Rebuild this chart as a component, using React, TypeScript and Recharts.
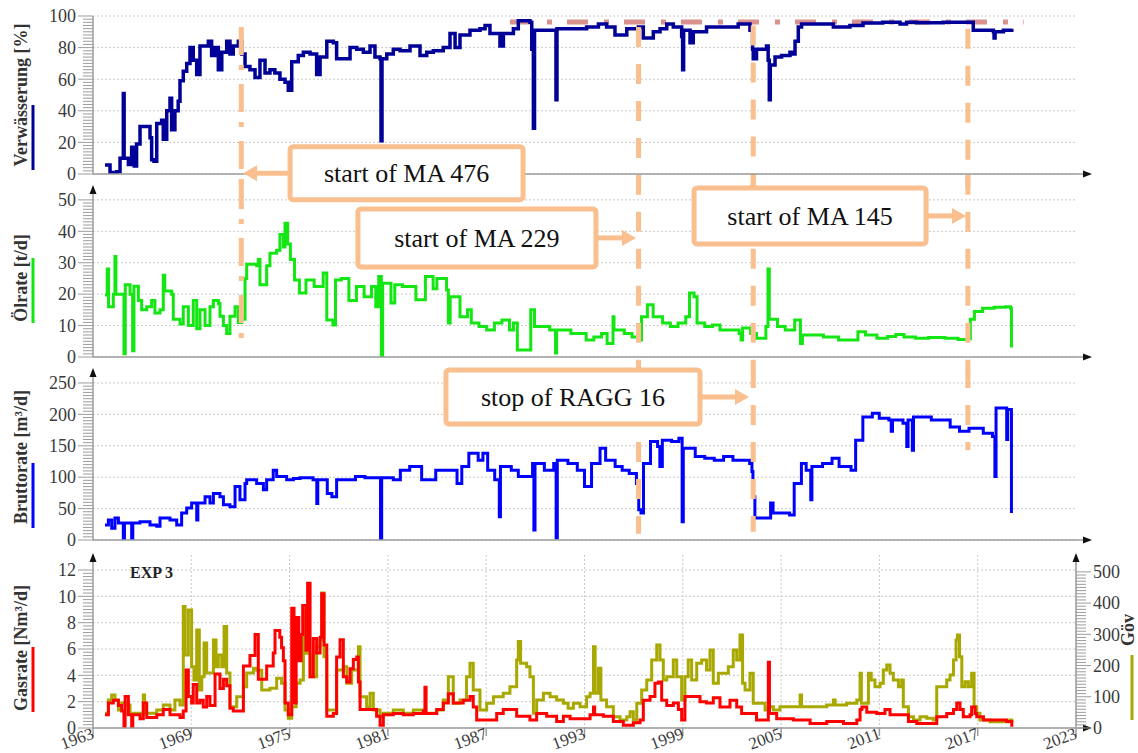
import {
  LineChart,
  Line,
  XAxis,
  YAxis,
  CartesianGrid,
  ReferenceLine,
  ReferenceDot,
} from "recharts";

type Pair = [number, number];

const SERIF = '"Liberation Serif", "Times New Roman", serif';
const ORANGE = "#f9bf8e";
const PINK = "#d8918c";
const AXIS = "#9c9c9c";
const GRID = "#c9c9c9";
const NAVY = "#000099";
const GREEN = "#14e614";
const BLUE = "#0000ff";
const RED = "#ff0000";
const OLIVE = "#a8a800";
const W = 1138;

const YEAR_TICKS = [1963, 1969, 1975, 1981, 1987, 1993, 1999, 2005, 2011, 2017, 2023];
const GRID_YEARS = [1969, 1975, 1981, 1987, 1993, 1999, 2005, 2011, 2017, 2023];

const WCUT_MAJOR = [0, 20, 40, 60, 80, 100];
const OIL_MAJOR = [0, 10, 20, 30, 40, 50];
const GROSS_MAJOR = [0, 50, 100, 150, 200, 250];
const GAS_MAJOR = [0, 2, 4, 6, 8, 10, 12];
const GOV_MAJOR = [0, 100, 200, 300, 400, 500];

// event years (vertical markers)
const MA476 = 1972.05;
const MA229 = 1996.3;
const RAGG16 = 2003.3;
const MA145 = 2016.4;

// Verwässerung [%]
const WCUT: Pair[] = [
  [1963.73, 5.7], [1964.04, 1], [1964.45, 1.5], [1964.65, 10], [1964.82, 10], [1964.85, 51], [1964.9, 10],
  [1965.16, 6], [1965.36, 17], [1965.52, 5], [1965.66, 19], [1965.87, 30], [1966.28, 30], [1966.48, 23],
  [1966.58, 9], [1966.72, 8], [1966.89, 32], [1967.19, 34], [1967.29, 22], [1967.5, 40], [1967.7, 48],
  [1967.8, 28], [1968.0, 40], [1968.2, 46], [1968.31, 59], [1968.51, 65], [1968.72, 70], [1968.92, 80],
  [1969.12, 72], [1969.33, 63], [1969.53, 81], [1969.84, 81], [1970.04, 84], [1970.24, 75], [1970.45, 80],
  [1970.65, 66], [1970.86, 77], [1971.16, 84], [1971.36, 76], [1971.56, 81], [1971.87, 84], [1972.08, 76],
  [1972.28, 68], [1972.58, 66], [1972.89, 61], [1973.19, 72], [1973.5, 64], [1973.8, 66], [1974.1, 64],
  [1974.41, 60], [1974.72, 58], [1974.92, 53], [1975.13, 71], [1975.53, 75], [1975.84, 77], [1976.25, 76],
  [1976.65, 63], [1976.86, 74], [1977.27, 84], [1977.67, 83], [1977.87, 73], [1978.28, 73], [1978.69, 80],
  [1979.1, 79], [1979.5, 77], [1979.91, 81], [1980.21, 74], [1980.52, 73], [1980.58, 21], [1980.64, 73],
  [1980.93, 76], [1981.33, 79], [1981.74, 78], [1982.35, 81], [1982.96, 75], [1983.37, 77], [1983.77, 78],
  [1984.38, 80], [1984.79, 89], [1985.1, 80], [1985.4, 88], [1986.01, 91], [1986.62, 92], [1986.93, 94],
  [1987.23, 89], [1987.64, 89], [1987.84, 81], [1988.05, 89], [1988.66, 92], [1988.96, 97], [1989.67, 96],
  [1989.78, 79], [1989.88, 29], [1989.95, 91], [1991.2, 91], [1991.26, 47], [1991.32, 92], [1992.73, 92],
  [1993.13, 93], [1993.85, 95], [1994.35, 93], [1994.86, 88], [1995.58, 92], [1996.29, 93], [1996.59, 86],
  [1997.2, 90], [1997.61, 92], [1998.02, 95], [1998.42, 93], [1998.93, 87], [1998.99, 66], [1999.05, 91],
  [1999.44, 83], [1999.64, 90], [2000.45, 93], [2001.67, 93], [2002.38, 95], [2003.1, 91], [2003.26, 79],
  [2003.3, 73], [2003.5, 79], [2004.11, 81], [2004.21, 72], [2004.28, 47], [2004.34, 69], [2004.63, 74],
  [2005.03, 75], [2005.54, 77], [2005.74, 76], [2005.85, 84], [2006.05, 93], [2006.25, 95], [2008.19, 93],
  [2009.2, 94], [2010.0, 95.5], [2011.2, 96], [2012.26, 95], [2012.66, 96], [2013.27, 95.7], [2014.9, 96],
  [2016.5, 96], [2016.73, 91], [2017.3, 91], [2017.96, 90], [2018.0, 86], [2018.06, 90], [2018.57, 91],
  [2019.08, 92],
];

// Ölrate [t/d]
const OIL: Pair[] = [
  [1963.73, 19.7], [1963.87, 28], [1963.95, 16], [1964.24, 20], [1964.34, 32], [1964.4, 20], [1964.75, 20],
  [1964.89, 1], [1964.97, 23], [1965.26, 20], [1965.42, 2], [1965.5, 22.5], [1965.77, 18], [1965.97, 15],
  [1966.28, 16], [1966.58, 18], [1966.78, 14], [1967.09, 15], [1967.29, 26], [1967.38, 21], [1967.8, 20],
  [1967.9, 12], [1968.31, 10.5], [1968.51, 16], [1968.82, 10], [1969.12, 18], [1969.33, 9], [1969.53, 15],
  [1969.84, 10], [1970.14, 16], [1970.35, 18], [1970.65, 17], [1970.75, 13], [1970.96, 10], [1971.16, 7.5],
  [1971.36, 13], [1971.67, 16], [1971.87, 11], [1972.08, 12], [1972.28, 25], [1972.38, 29.5], [1972.99, 29],
  [1973.09, 31], [1973.19, 23], [1973.6, 29], [1973.8, 33], [1974.21, 34], [1974.41, 39], [1974.62, 35],
  [1974.72, 42.6], [1974.88, 36], [1975.05, 31], [1975.3, 24.5], [1975.6, 20.4], [1976.0, 24.5],
  [1976.5, 22.4], [1977.05, 26.7], [1977.27, 11.8], [1977.64, 10.2], [1977.8, 24.5], [1978.15, 25],
  [1978.62, 18], [1979.08, 22.4], [1979.55, 19.2], [1980.0, 22.4], [1980.26, 16], [1980.44, 25.6],
  [1980.6, 0], [1980.68, 23.5], [1981.19, 17.2], [1981.42, 23], [1981.89, 22.4], [1982.71, 18.2],
  [1983.29, 25.6], [1983.76, 21.7], [1983.99, 25], [1984.58, 21.3], [1984.69, 10.8], [1984.8, 19.2],
  [1985.16, 19.2], [1985.4, 12.8], [1985.86, 15], [1986.09, 10.8], [1986.56, 9.7], [1987.03, 8.6],
  [1987.5, 10.8], [1987.96, 11.8], [1988.42, 8.6], [1988.66, 10.8], [1988.9, 2.2], [1989.36, 2.2],
  [1989.72, 15], [1989.95, 9.7], [1990.54, 9.7], [1990.88, 8.6], [1991.23, 1.3], [1991.3, 8.6],
  [1992.17, 7.5], [1992.87, 7.5], [1993.1, 5.4], [1993.57, 6.4], [1994.04, 7.5], [1994.38, 4.3],
  [1994.74, 12.8], [1994.8, 8.6], [1995.43, 7.5], [1995.9, 6.4], [1996.37, 5.4], [1996.48, 12.8],
  [1996.84, 16.6], [1997.19, 12.8], [1997.77, 10.8], [1998.24, 9.7], [1998.71, 10.8], [1999.18, 12.8],
  [1999.41, 20.4], [1999.69, 19.2], [1999.87, 10.8], [2000.34, 9.7], [2000.81, 10.2], [2001.27, 8.6],
  [2002.44, 7.5], [2002.56, 5.4], [2002.65, 9.2], [2003.14, 7.5], [2003.5, 6], [2004.07, 9.7], [2004.2, 28],
  [2004.28, 12], [2004.78, 9.7], [2005.25, 8.6], [2005.83, 11.8], [2006.18, 4.3], [2006.3, 7], [2007.58, 6.4],
  [2008.51, 5.4], [2009.69, 8], [2010.15, 7], [2010.85, 6], [2011.5, 6.5], [2012.0, 7.2], [2012.5, 6.4],
  [2013.2, 6.0], [2014.0, 6.2], [2015.0, 6.0], [2015.8, 5.6], [2016.45, 5.8], [2016.55, 12], [2016.8, 14.5],
  [2017.3, 15.5], [2018.0, 15.8], [2018.7, 16], [2019.0, 15.5], [2019.06, 3],
];

// Bruttorate [m³/d]
const GROSS: Pair[] = [
  [1963.73, 24], [1963.94, 32], [1964.14, 18.6], [1964.34, 35], [1964.55, 27], [1964.85, 0], [1964.92, 27],
  [1965.36, 0], [1965.43, 27], [1965.87, 29], [1966.48, 24], [1966.89, 22], [1967.09, 35], [1967.7, 32],
  [1968.11, 24], [1968.41, 43], [1968.72, 51], [1969.02, 59], [1969.33, 32], [1969.4, 59], [1969.84, 69],
  [1970.14, 59], [1970.35, 74], [1970.75, 69], [1970.96, 56], [1971.36, 53], [1971.67, 85], [1971.97, 64],
  [1972.28, 90], [1972.38, 96], [1972.99, 90], [1973.4, 80], [1973.6, 96], [1974.0, 111], [1974.21, 101],
  [1974.82, 96], [1975.23, 98], [1975.64, 99], [1976.43, 96], [1976.66, 58], [1976.72, 96], [1977.3, 74],
  [1977.58, 69], [1977.87, 96], [1979.02, 101], [1979.6, 99], [1980.55, 0], [1980.62, 99], [1981.33, 96],
  [1981.76, 111], [1982.33, 117], [1983.06, 96], [1983.92, 111], [1984.5, 111], [1985.22, 90],
  [1985.51, 117], [1985.94, 138], [1986.51, 127], [1986.8, 138], [1987.09, 111], [1987.52, 96],
  [1987.8, 37], [1987.87, 117], [1988.53, 111], [1988.96, 101], [1989.83, 122], [1989.91, 16],
  [1989.98, 122], [1990.55, 111], [1991.12, 122], [1991.27, 3], [1991.34, 127], [1991.99, 122],
  [1992.56, 111], [1993.0, 85], [1993.43, 122], [1993.95, 146], [1994.29, 127], [1994.87, 117],
  [1995.3, 111], [1995.73, 106], [1996.17, 90], [1996.31, 48], [1996.45, 43], [1996.6, 122],
  [1997.03, 157], [1997.46, 149], [1997.6, 117], [1997.75, 159], [1998.32, 157], [1998.76, 162],
  [1998.96, 29], [1999.03, 146], [1999.76, 133], [2000.34, 130], [2000.92, 127], [2001.49, 133],
  [2002.06, 127], [2003.08, 122], [2003.22, 109], [2003.28, 69], [2003.4, 35], [2004.36, 59],
  [2004.51, 43], [2005.52, 40], [2005.8, 90], [2006.24, 122], [2006.53, 111], [2006.81, 64],
  [2006.88, 117], [2007.53, 122], [2008.11, 130], [2008.54, 117], [2009.27, 111], [2009.55, 159],
  [2009.99, 196], [2010.57, 202], [2010.99, 194], [2011.58, 191], [2011.72, 173], [2011.8, 191],
  [2012.44, 186], [2012.67, 149], [2012.75, 191], [2013.01, 143], [2013.08, 196], [2014.17, 191],
  [2015.32, 180], [2015.89, 173], [2016.47, 178], [2017.34, 170], [2017.9, 165], [2018.05, 101],
  [2018.12, 210], [2018.7, 210], [2018.77, 160], [2018.83, 208], [2019.0, 208], [2019.06, 43],
];

// Gasrate [Nm³/d]
const GAS: Pair[] = [
  [1963.73, 1.0], [1963.94, 1.9], [1964.24, 2.1], [1964.55, 1.7], [1964.75, 1.3], [1964.89, 0.1],
  [1964.96, 2.4], [1965.16, 1.0], [1965.36, 0.1], [1965.43, 1.0], [1965.87, 0.7], [1966.07, 1.9],
  [1966.28, 0.8], [1966.89, 1.0], [1967.29, 1.4], [1967.7, 1.0], [1968.31, 0.8], [1968.51, 1.3],
  [1968.68, 4.4], [1968.82, 2.4], [1969.02, 1.9], [1969.12, 3.3], [1969.33, 1.9], [1969.53, 2.1],
  [1969.73, 1.6], [1969.94, 2.4], [1970.14, 1.7], [1970.45, 4.1], [1970.75, 3.0], [1970.96, 3.7],
  [1971.16, 3.2], [1971.36, 1.5], [1971.56, 1.3], [1972.18, 4.7], [1972.58, 5.5], [1972.89, 7.1],
  [1973.09, 3.7], [1973.6, 4.7], [1974.0, 5.7], [1974.11, 7.4], [1974.4, 6.9], [1974.51, 6.1],
  [1974.62, 5.1], [1974.72, 1.9], [1974.92, 1.0], [1975.13, 9.1], [1975.27, 1.9], [1975.4, 8.4],
  [1975.56, 5.1], [1975.7, 7.1], [1975.8, 9.3], [1976.0, 5.9], [1976.1, 11.0], [1976.25, 3.9],
  [1976.45, 6.8], [1976.65, 5.7], [1976.86, 6.9], [1976.96, 10.2], [1977.1, 6.3], [1977.27, 0.9],
  [1977.67, 1.1], [1977.87, 5.4], [1978.08, 6.7], [1978.28, 3.9], [1978.49, 3.5], [1978.69, 4.5],
  [1978.89, 5.2], [1979.1, 5.4], [1979.2, 3.5], [1979.3, 1.4], [1980.31, 0.9], [1980.52, 0.2],
  [1980.72, 1.0], [1981.33, 1.1], [1981.94, 1.0], [1982.55, 1.1], [1983.16, 1.3], [1983.26, 3.1],
  [1983.33, 1.1], [1983.98, 1.4], [1984.38, 1.9], [1984.69, 2.6], [1984.99, 1.9], [1985.6, 2.1],
  [1986.01, 2.4], [1986.21, 1.6], [1986.42, 0.6], [1987.64, 1.1], [1988.04, 1.4], [1988.86, 0.9],
  [1989.67, 0.6], [1990.08, 1.1], [1990.69, 0.9], [1991.3, 0.5], [1991.71, 0.9], [1992.12, 0.7],
  [1993.34, 1.0], [1993.55, 1.6], [1993.62, 1.0], [1994.15, 0.9], [1994.76, 0.5], [1995.37, 0.2],
  [1995.98, 0.4], [1996.39, 0.6], [1996.59, 2.1], [1997.0, 2.4], [1997.3, 3.4], [1997.51, 3.5],
  [1997.71, 2.1], [1998.02, 1.7], [1998.42, 1.9], [1998.73, 1.4], [1998.93, 0.6], [1999.13, 2.4],
  [2000.05, 2.0], [2000.45, 1.9], [2000.86, 2.3], [2001.27, 1.6], [2001.88, 2.1], [2002.29, 1.6],
  [2002.59, 1.1], [2003.5, 0.6], [2004.22, 5.0], [2004.29, 1.1], [2004.73, 0.7], [2005.75, 0.6],
  [2006.77, 0.35], [2007.79, 0.5], [2008.81, 0.35], [2009.62, 0.6], [2009.82, 1.4], [2009.93, 1.6],
  [2010.23, 1.2], [2010.84, 1.1], [2011.34, 1.4], [2011.65, 1.0], [2012.77, 0.5], [2013.28, 0.35],
  [2014.5, 0.85], [2015.11, 1.1], [2015.52, 1.4], [2015.72, 1.9], [2015.92, 1.4], [2016.12, 0.85],
  [2016.53, 1.0], [2016.63, 1.6], [2016.84, 1.1], [2016.94, 0.85], [2017.35, 0.6], [2018.77, 0.5],
  [2019.08, 0.1],
];

// Göv (right axis)
const GOV: Pair[] = [
  [1963.73, 47], [1963.94, 90], [1964.14, 106], [1964.34, 90], [1964.55, 58], [1964.75, 80], [1965.01, 74],
  [1965.26, 47], [1966.07, 106], [1966.15, 47], [1966.89, 58], [1967.29, 74], [1967.7, 58], [1968.0, 90],
  [1968.31, 74], [1968.51, 389], [1968.62, 234], [1968.82, 378], [1969.02, 196], [1969.16, 154],
  [1969.33, 314], [1969.49, 122], [1969.64, 164], [1969.78, 272], [1969.94, 176], [1970.35, 282],
  [1970.51, 196], [1970.65, 234], [1970.86, 196], [1971.0, 325], [1971.16, 176], [1971.36, 68],
  [1971.77, 100], [1972.18, 132], [1972.38, 176], [1972.79, 191], [1972.99, 185], [1973.3, 122],
  [1973.8, 127], [1974.21, 159], [1974.51, 143], [1974.72, 58], [1974.92, 31], [1975.13, 68],
  [1975.4, 143], [1975.64, 154], [1975.84, 378], [1976.0, 239], [1976.25, 164], [1976.65, 260],
  [1976.86, 282], [1976.96, 432], [1977.1, 228], [1977.27, 58], [1977.87, 186], [1978.28, 196],
  [1978.49, 143], [1978.79, 186], [1979.2, 260], [1979.3, 100], [1979.7, 68], [1979.91, 111],
  [1980.11, 58], [1980.52, 36], [1980.72, 47], [1981.33, 58], [1981.94, 47], [1982.55, 58], [1983.16, 47],
  [1983.98, 58], [1984.38, 90], [1984.69, 164], [1984.99, 79], [1985.4, 90], [1985.8, 164], [1986.01, 207],
  [1986.21, 122], [1986.62, 58], [1987.03, 79], [1987.44, 100], [1988.04, 111], [1988.45, 132],
  [1988.86, 218], [1988.96, 277], [1989.1, 207], [1989.47, 196], [1989.67, 164], [1989.88, 47],
  [1990.08, 90], [1990.49, 111], [1990.9, 100], [1991.3, 90], [1991.71, 79], [1992.0, 63], [1992.32, 79],
  [1992.73, 68], [1993.13, 100], [1993.34, 111], [1993.55, 260], [1993.65, 111], [1993.85, 191],
  [1994.0, 90], [1994.35, 68], [1994.76, 36], [1995.17, 26], [1995.58, 36], [1995.78, 52], [1995.98, 26],
  [1996.19, 79], [1996.49, 122], [1996.8, 154], [1997.1, 218], [1997.41, 266], [1997.61, 218],
  [1997.81, 154], [1998.02, 164], [1998.42, 218], [1998.63, 164], [1998.93, 90], [1999.13, 164],
  [1999.33, 218], [1999.54, 154], [1999.85, 207], [2000.15, 218], [2000.45, 186], [2000.66, 250],
  [2000.86, 143], [2001.17, 175], [2001.78, 196], [2002.08, 250], [2002.29, 218], [2002.49, 298],
  [2002.65, 143], [2002.8, 122], [2003.1, 175], [2003.3, 79], [2004.02, 58], [2004.22, 68], [2004.53, 58],
  [2004.93, 68], [2006.16, 106], [2006.25, 68], [2007.78, 74], [2008.19, 90], [2008.3, 74], [2009.0, 79],
  [2009.62, 90], [2009.82, 175], [2009.9, 79], [2010.33, 175], [2010.5, 154], [2010.73, 132],
  [2011.04, 143], [2011.24, 186], [2011.45, 202], [2011.65, 175], [2011.85, 154], [2012.16, 132],
  [2012.36, 154], [2012.46, 68], [2012.77, 36], [2013.08, 26], [2013.48, 36], [2013.89, 31], [2014.29, 26],
  [2014.5, 132], [2015.11, 154], [2015.31, 170], [2015.52, 218], [2015.68, 282], [2015.76, 298],
  [2015.89, 228], [2016.03, 132], [2016.23, 148], [2016.43, 132], [2016.63, 175], [2016.78, 68],
  [2016.94, 47], [2017.14, 26], [2017.75, 20], [2018.97, 26], [2019.08, 16],
];

const pts = (arr: Pair[]) => arr.map(([t, v]) => ({ t, v }));
const steps = (max: number, step: number) =>
  Array.from({ length: Math.round(max / step) + 1 }, (_, i) => +(i * step).toFixed(2));

function yTick(major: number, side: "left" | "right") {
  return (props: any) => {
    const { x, y, payload } = props;
    const v = payload.value;
    const isMajor = Math.abs(v / major - Math.round(v / major)) < 1e-6;
    const len = isMajor ? 15 : 10;
    const s = side === "left" ? -1 : 1;
    return (
      <g>
        <line x1={x} x2={x + s * len} y1={y} y2={y} stroke={AXIS} strokeWidth={1} />
        {isMajor && (
          <text
            x={x + s * (len + 2)}
            y={y}
            dy="0.35em"
            textAnchor={side === "left" ? "end" : "start"}
            fontFamily={SERIF}
            fontSize={18}
            fill="#3a3a3a"
          >
            {v}
          </text>
        )}
      </g>
    );
  };
}

const yearTick = (props: any) => {
  const { x, y, payload } = props;
  return (
    <text
      x={x + 2}
      y={y + 2}
      transform={`rotate(-20 ${x + 2} ${y + 2})`}
      textAnchor="end"
      fontFamily={SERIF}
      fontSize={17}
      fill="#3a3a3a"
    >
      {payload.value}
    </text>
  );
};

const xArrow = (props: any) => {
  const vb = props.viewBox;
  const x = vb.x + vb.width;
  const y = vb.y;
  return (
    <g>
      <line x1={x} x2={x + 8} y1={y} y2={y} stroke={AXIS} strokeWidth={1.5} />
      <path d={`M${x + 7},${y - 3.5}L${x + 16},${y}L${x + 7},${y + 3.5}Z`} fill="#111" />
    </g>
  );
};

// axis title + legend stroke, offsets are relative to the plot top
function axisTitle(
  text: string,
  color: string,
  side: "left" | "right",
  center: number,
  line: [number, number],
  arrow: boolean,
  extra?: string,
) {
  return (props: any) => {
    const vb = props.viewBox;
    const ax = side === "left" ? vb.x + vb.width : vb.x;
    const tx = side === "left" ? vb.x + 27 : vb.x + vb.width - 4;
    const lx = side === "left" ? vb.x + 33 : vb.x + vb.width - 6;
    const cy = vb.y + center;
    return (
      <g>
        <text
          transform={`translate(${tx},${cy}) rotate(-90)`}
          textAnchor="middle"
          fontFamily={SERIF}
          fontWeight="bold"
          fontSize={18}
          fill="#333"
        >
          {text}
        </text>
        <line x1={lx} x2={lx} y1={vb.y + line[0]} y2={vb.y + line[1]} stroke={color} strokeWidth={3} />
        {arrow && (
          <path d={`M${ax - 3.5},${vb.y + 7}L${ax},${vb.y - 2}L${ax + 3.5},${vb.y + 7}Z`} fill="#111" />
        )}
        {extra && (
          <text
            x={vb.x + vb.width + 37}
            y={vb.y + 23}
            fontFamily={SERIF}
            fontWeight="bold"
            fontSize={16}
            fill="#222"
          >
            {extra}
          </text>
        )}
      </g>
    );
  };
}

function callout(text: string, dir: "left" | "right", w: number, h: number, gap: number) {
  return (p: any) => {
    const { cx, cy } = p;
    const bx = dir === "right" ? cx - gap - w : cx + gap;
    const from = dir === "right" ? cx - gap : cx + gap;
    const head = dir === "right" ? cx - 14 : cx + 14;
    return (
      <g>
        <line x1={from} x2={head} y1={cy} y2={cy} stroke={ORANGE} strokeWidth={5} />
        <path d={`M${head},${cy - 8}L${cx},${cy}L${head},${cy + 8}Z`} fill={ORANGE} />
        <rect x={bx} y={cy - h / 2} width={w} height={h} rx={3} fill="#fff" stroke={ORANGE} strokeWidth={5} />
        <text
          x={bx + w / 2}
          y={cy}
          dy="0.35em"
          textAnchor="middle"
          fontFamily={SERIF}
          fontSize={26}
          fill="#111"
        >
          {text}
        </text>
      </g>
    );
  };
}

const dashed = { stroke: ORANGE, strokeWidth: 5, strokeDasharray: "20 17", ifOverflow: "visible" as const };
const dashDot = { stroke: ORANGE, strokeWidth: 5, strokeDasharray: "28 10 5 14", ifOverflow: "visible" as const };

function vline(x: number, y1: number, y2: number) {
  return [
    { x, y: y1 },
    { x, y: y2 },
  ];
}

function xAxisProps() {
  return {
    dataKey: "t",
    type: "number" as const,
    domain: [1963, 2023],
    ticks: YEAR_TICKS,
    interval: 0,
    allowDataOverflow: true,
    axisLine: { stroke: AXIS, strokeWidth: 1.5 },
    tickLine: { stroke: AXIS, strokeWidth: 1.5 },
    tickSize: 8,
    tickMargin: 0,
  };
}

function yAxisBase() {
  return {
    type: "number" as const,
    interval: 0,
    allowDataOverflow: true,
    tickSize: 0,
    tickMargin: 0,
    tickLine: false,
    axisLine: { stroke: AXIS, strokeWidth: 1.5 },
  };
}

export default function App() {
  return (
    <div style={{ position: "absolute", left: 0, top: 0, width: W, height: 753, background: "#fff" }}>
      <style>{".recharts-surface{overflow:visible}"}</style>

      {/* gas rate / Göv */}
      <div style={{ position: "absolute", left: 0, top: 540 }}>
        <LineChart width={W} height={213} margin={{ top: 15, right: 0, bottom: 0, left: 0 }}>
          <CartesianGrid
            yAxisId="left"
            horizontalValues={GAS_MAJOR}
            verticalValues={GRID_YEARS}
            stroke={GRID}
            strokeDasharray="2 2"
          />
          <XAxis {...xAxisProps()} height={25} tick={yearTick} label={xArrow} />
          <YAxis
            {...yAxisBase()}
            yAxisId="left"
            width={93}
            domain={[0, 13.14]}
            ticks={steps(12, 0.25)}
            tick={yTick(2, "left")}
            label={axisTitle("Gasrate [Nm³/d]", RED, "left", 93, [92, 157], true, "EXP 3")}
          />
          <YAxis
            {...yAxisBase()}
            yAxisId="right"
            orientation="right"
            width={62}
            domain={[0, 554]}
            ticks={steps(500, 10)}
            tick={yTick(100, "right")}
            label={axisTitle("Göv", OLIVE, "right", 75, [100, 165], true)}
          />
          <Line
            yAxisId="right"
            data={pts(GOV)}
            dataKey="v"
            type="stepAfter"
            stroke={OLIVE}
            strokeWidth={3}
            dot={false}
            isAnimationActive={false}
          />
          <Line
            yAxisId="left"
            data={pts(GAS)}
            dataKey="v"
            type="stepAfter"
            stroke={RED}
            strokeWidth={3}
            dot={false}
            isAnimationActive={false}
          />
        </LineChart>
      </div>

      {/* gross rate */}
      <div style={{ position: "absolute", left: 0, top: 357 }}>
        <LineChart width={W} height={196} margin={{ top: 13, right: 62, bottom: 0, left: 0 }}>
          <CartesianGrid
            horizontalValues={GROSS_MAJOR}
            verticalValues={GRID_YEARS}
            stroke={GRID}
            strokeDasharray="2 2"
          />
          <XAxis {...xAxisProps()} height={13} tick={false} label={xArrow} />
          <YAxis
            {...yAxisBase()}
            width={93}
            domain={[0, 270.7]}
            ticks={steps(250, 5)}
            tick={yTick(50, "left")}
            label={axisTitle("Bruttorate [m³/d]", BLUE, "left", 87, [93, 158], true)}
          />
          <Line
            data={pts(GROSS)}
            dataKey="v"
            type="stepAfter"
            stroke={BLUE}
            strokeWidth={3}
            dot={false}
            isAnimationActive={false}
          />
          <ReferenceLine segment={vline(MA229, 274, 10)} {...dashed} />
          <ReferenceLine segment={vline(RAGG16, 274, 13)} {...dashed} />
          <ReferenceLine segment={vline(MA145, 274, 143)} {...dashed} />
          <ReferenceDot
            x={2003.04}
            y={227.7}
            r={0}
            ifOverflow="visible"
            shape={callout("stop of RAGG 16", "right", 254, 54, 49)}
          />
        </LineChart>
      </div>

      {/* oil rate */}
      <div style={{ position: "absolute", left: 0, top: 175 }}>
        <LineChart width={W} height={195} margin={{ top: 12, right: 62, bottom: 0, left: 0 }}>
          <CartesianGrid
            horizontalValues={OIL_MAJOR}
            verticalValues={GRID_YEARS}
            stroke={GRID}
            strokeDasharray="2 2"
          />
          <XAxis {...xAxisProps()} height={13} tick={false} label={xArrow} />
          <YAxis
            {...yAxisBase()}
            width={93}
            domain={[0, 54.1]}
            ticks={steps(50, 1)}
            tick={yTick(10, "left")}
            label={axisTitle("Ölrate [t/d]", GREEN, "left", 91, [71, 136], true)}
          />
          <Line
            data={pts(OIL)}
            dataKey="v"
            type="stepAfter"
            stroke={GREEN}
            strokeWidth={3}
            dot={false}
            isAnimationActive={false}
          />
          <ReferenceLine segment={vline(MA476, 56, 4.5)} {...dashDot} />
          <ReferenceLine segment={vline(MA229, 58, -4)} {...dashed} />
          <ReferenceLine segment={vline(RAGG16, 58, -4)} {...dashed} />
          <ReferenceLine segment={vline(MA145, 58, -4)} {...dashed} />
          <ReferenceDot
            x={1996.14}
            y={37.9}
            r={0}
            ifOverflow="visible"
            shape={callout("start of MA 229", "right", 238, 58, 40)}
          />
          <ReferenceDot
            x={2016.29}
            y={44.9}
            r={0}
            ifOverflow="visible"
            shape={callout("start of MA 145", "right", 232, 56, 40)}
          />
        </LineChart>
      </div>

      {/* water cut */}
      <div style={{ position: "absolute", left: 0, top: 0 }}>
        <LineChart width={W} height={187} margin={{ top: 16, right: 62, bottom: 0, left: 0 }}>
          <CartesianGrid
            horizontalValues={WCUT_MAJOR}
            verticalValues={GRID_YEARS}
            stroke={GRID}
            strokeDasharray="2 2"
          />
          <XAxis {...xAxisProps()} height={13} tick={false} label={xArrow} />
          <YAxis
            {...yAxisBase()}
            width={93}
            domain={[0, 100]}
            ticks={steps(100, 2)}
            tick={yTick(20, "left")}
            label={axisTitle("Verwässerung [%]", NAVY, "left", 79, [89, 154], false)}
          />
          <ReferenceLine
            segment={[
              { x: 1988.45, y: 96.2 },
              { x: 2019.8, y: 96.2 },
            ]}
            stroke={PINK}
            strokeWidth={5}
            strokeDasharray="21 16 5 15"
            ifOverflow="visible"
          />
          <Line
            data={pts(WCUT)}
            dataKey="v"
            type="stepAfter"
            stroke={NAVY}
            strokeWidth={3.5}
            dot={false}
            isAnimationActive={false}
          />
          <ReferenceLine segment={vline(MA476, 93, -8)} {...dashDot} />
          <ReferenceLine segment={vline(MA229, 93, -8)} {...dashed} />
          <ReferenceLine segment={vline(RAGG16, 94, -8)} {...dashed} />
          <ReferenceLine segment={vline(MA145, 92, -8)} {...dashed} />
          <ReferenceDot
            x={1972.16}
            y={0.5}
            r={0}
            ifOverflow="visible"
            shape={callout("start of MA 476", "left", 233, 53, 47)}
          />
        </LineChart>
      </div>
    </div>
  );
}
